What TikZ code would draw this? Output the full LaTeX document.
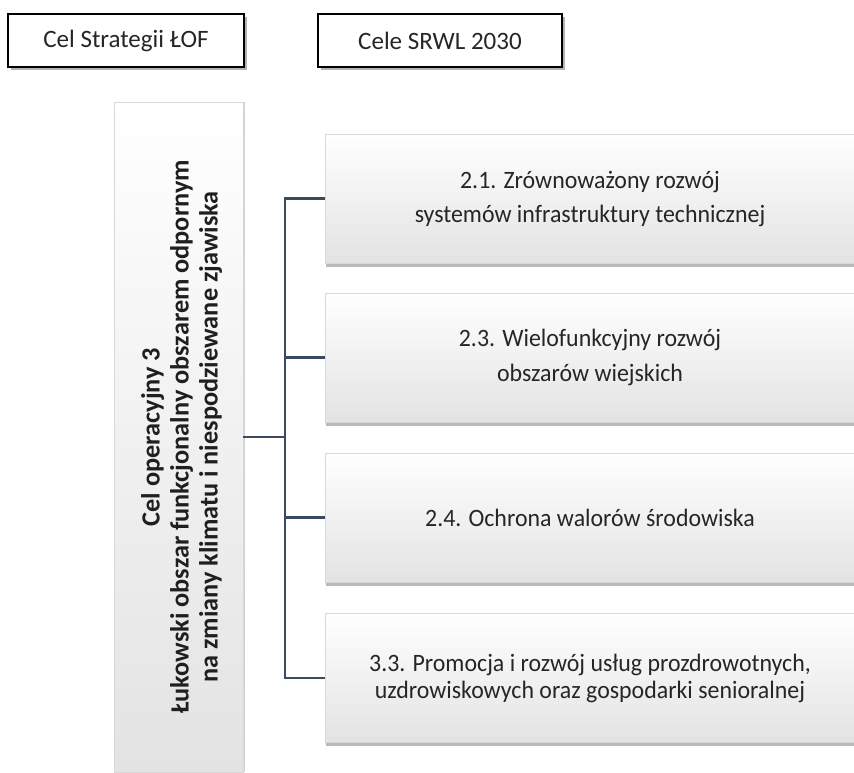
\documentclass[tikz,border=0pt]{standalone}
\usepackage{fontspec}
\setmainfont{Carlito}
\usetikzlibrary{shadows}
\definecolor{conn}{HTML}{3B4A63}
\definecolor{edgegray}{HTML}{D8D8D8}
\tikzset{
  hdr/.style={draw=black, line width=1.6pt, fill=white, minimum height=53pt, inner sep=0pt,
    drop shadow={shadow xshift=2.5pt, shadow yshift=-3pt, opacity=0.6},
    font=\fontsize{25}{29}\selectfont, text=black!85},
  goalbox/.style={draw=edgegray, line width=0.4pt, minimum width=530pt, minimum height=129pt, inner sep=0pt,
    top color=white, middle color=white, bottom color=black!11,
    drop shadow={shadow xshift=1pt, shadow yshift=-3.5pt, opacity=0.55},
    align=center, text=black!85},
  leftbox/.style={draw=edgegray, line width=0.4pt, minimum width=129pt, minimum height=670pt, inner sep=0pt,
    top color=white, bottom color=black!11,
    drop shadow={shadow xshift=2pt, shadow yshift=0pt, opacity=0.35}},
  connector/.style={draw=conn, line width=2.2pt}
}
\newcommand{\goalfont}[1]{\fontsize{25}{#1}\selectfont\addfontfeature{FakeStretch=0.955}}
\begin{document}
\begin{tikzpicture}[x=1pt,y=-1pt]
\clip (0,0) rectangle (854,772);
\fill[white] (0,0) rectangle (854,772);
% headers
\node[hdr, minimum width=236pt] (h1) at (126,40.5) {Cel Strategii ŁOF};
\node[hdr, minimum width=244pt] (h2) at (440,40.5) {Cele SRWL 2030};
% left box
\node[leftbox] (lbox) at (178.5,437) {};
\node[rotate=90, align=center, font=\bfseries\fontsize{26.3}{29}\selectfont, text=black!88] (ltext) at ([xshift=3pt]lbox.center)
  {Cel operacyjny 3\\Łukowski obszar funkcjonalny obszarem odpornym\\na zmiany klimatu i niespodziewane zjawiska};
% right boxes
\node[goalbox, font=\goalfont{34}] (b1) at (590,198.5) {2.1. Zrównoważony rozwój\\systemów infrastruktury technicznej};
\node[goalbox, font=\goalfont{35}] (b2) at (590,357.5) {2.3. Wielofunkcyjny rozwój\\obszarów wiejskich};
\node[goalbox, font=\goalfont{27}] (b3) at (590,517.5) {2.4. Ochrona walorów środowiska};
\node[goalbox, font=\goalfont{27}] (b4) at (590,678) {3.3. Promocja i rozwój usług prozdrowotnych,\\uzdrowiskowych oraz gospodarki senioralnej};
% connectors
\coordinate (tk) at (285,437);
\draw[connector] (lbox.east) -- (tk);
\draw[connector] (b1.west) -- (b1.west -| tk) -- (b4.west -| tk) -- (b4.west);
\draw[connector] (b2.west) -- (b2.west -| tk);
\draw[connector] (b3.west) -- (b3.west -| tk);
\end{tikzpicture}
\end{document}
